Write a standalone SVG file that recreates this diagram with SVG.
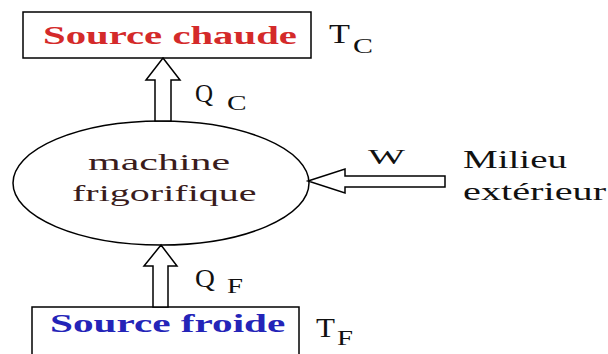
<svg xmlns="http://www.w3.org/2000/svg" width="608" height="354" viewBox="0 0 608 354">
<style>
.box{fill:#fff;stroke:#000;stroke-width:1.5}
.arrow{fill:#fff;stroke:#000;stroke-width:1.5;stroke-linejoin:miter}
text{font-family:"Liberation Serif","DejaVu Serif",serif;fill:#111}
.b{font-weight:bold}
</style>
<rect width="608" height="354" fill="#fff"/>
<g id="source-chaude">
<rect class="box" x="23" y="12" width="288" height="46"/>
<text class="b" transform="translate(43,44) scale(1.63,1)" font-size="25" style="fill:#d42a2a">Source chaude</text>
</g>
<g id="label-tc">
<text transform="translate(329,43) scale(1.27,1)" font-size="27">T</text>
<text transform="translate(353,53) scale(1.36,1)" font-size="22">C</text>
</g>
<g id="machine">
<ellipse class="box" cx="161" cy="183" rx="148" ry="62"/>
<text transform="translate(88,170) scale(1.75,1)" font-size="24" style="fill:#3a1c1c">machine</text>
<text transform="translate(72,201) scale(1.67,1)" font-size="24" style="fill:#3a1c1c">frigorifique</text>
</g>
<g id="source-froide">
<rect class="box" x="32" y="307" width="267" height="60"/>
<text class="b" transform="translate(50,332) scale(1.585,1)" font-size="26" style="fill:#2424b8">Source froide</text>
</g>
<g id="label-tf">
<text transform="translate(316,337) scale(1.15,1)" font-size="27">T</text>
<text transform="translate(337,345) scale(1.44,1)" font-size="20">F</text>
</g>
<g id="milieu">
<text transform="translate(463,168) scale(1.5,1)" font-size="26">Milieu</text>
<text transform="translate(463,200) scale(1.55,1)" font-size="26">extérieur</text>
</g>
<g id="connectors">
<polygon class="arrow" points="163,58 180,80 171,80 171,121 155,121 155,80 146,80"/>
<polygon class="arrow" points="161,245 177,266 168,266 168,307 153,307 153,266 144,266"/>
<polygon class="arrow" points="308,181 345,169 345,176 445,176 445,187 345,187 345,193"/>
<text transform="translate(195,102)" font-size="25">Q</text>
<text transform="translate(227,110) scale(1.4,1)" font-size="21">C</text>
<text transform="translate(195,287) scale(1.1,1)" font-size="25">Q</text>
<text transform="translate(227,293) scale(1.44,1)" font-size="20">F</text>
<text transform="translate(368,164) scale(1.78,1)" font-size="22">W</text>
</g>
</svg>
